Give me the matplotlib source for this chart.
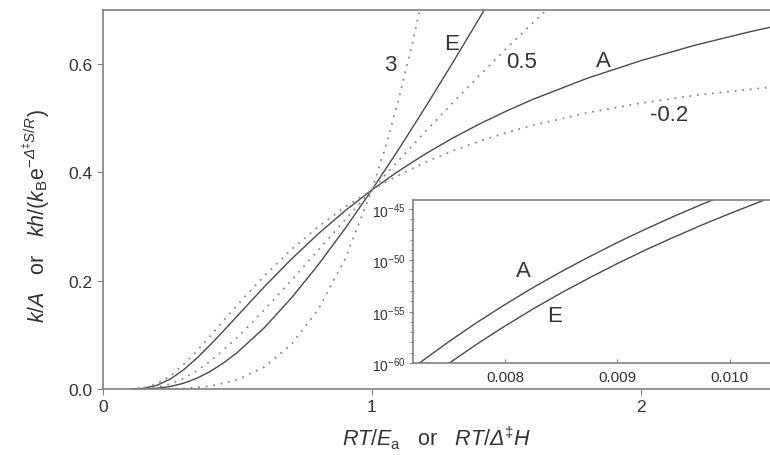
import matplotlib
matplotlib.use("Agg")
import matplotlib.pyplot as plt
from matplotlib.ticker import FixedLocator, FixedFormatter, NullFormatter

plt.rcParams['font.family'] = ['Liberation Sans', 'DejaVu Sans']
plt.rcParams['mathtext.fontset'] = 'custom'
plt.rcParams['mathtext.rm'] = 'Liberation Sans'
plt.rcParams['mathtext.it'] = 'Liberation Sans:italic'
plt.rcParams['mathtext.bf'] = 'Liberation Sans:bold'
plt.rcParams['mathtext.sf'] = 'Liberation Sans:italic'

# ---- main panel data ----
x_A = [0.10, 0.15, 0.20, 0.25, 0.30, 0.35, 0.40, 0.45, 0.50, 0.60, 0.70, 0.80, 0.90,
       1.00, 1.10, 1.20, 1.30, 1.40, 1.50, 1.60, 1.80, 2.00, 2.20, 2.40, 2.50]
y_A = [0.00005, 0.00127, 0.00674, 0.0183, 0.0357, 0.0574, 0.0821, 0.1084, 0.1353, 0.1889,
       0.2397, 0.2865, 0.3292, 0.3679, 0.4029, 0.4346, 0.4634, 0.4895, 0.5134, 0.5353,
       0.5738, 0.6065, 0.6348, 0.6592, 0.6703]

x_E = [0.10, 0.15, 0.20, 0.25, 0.30, 0.35, 0.40, 0.45, 0.50, 0.60, 0.70, 0.80, 0.90,
       1.00, 1.10, 1.20, 1.30, 1.40, 1.45]
y_E = [0.000005, 0.00019, 0.00135, 0.00458, 0.0107, 0.0201, 0.0328, 0.0488, 0.0677, 0.1133,
       0.1678, 0.2292, 0.2963, 0.3679, 0.4432, 0.5215, 0.6024, 0.6853, 0.7275]

x_m3 = [0.10, 0.20, 0.30, 0.40, 0.50, 0.60, 0.70, 0.80, 0.90, 1.00, 1.05, 1.10, 1.15, 1.20]
y_m3 = [0.0, 0.00005, 0.00096, 0.00525, 0.0169, 0.0408, 0.0822, 0.1467, 0.2400, 0.3679,
        0.4466, 0.5363, 0.6374, 0.7510]

x_m05 = [0.10, 0.15, 0.20, 0.25, 0.30, 0.35, 0.40, 0.45, 0.50, 0.60, 0.70, 0.80, 0.90,
         1.00, 1.10, 1.20, 1.30, 1.40, 1.50, 1.60, 1.70]
y_m05 = [0.000014, 0.00049, 0.00301, 0.00916, 0.01955, 0.0340, 0.0519, 0.0727, 0.0957,
         0.1463, 0.2006, 0.2563, 0.3123, 0.3679, 0.4226, 0.4761, 0.5284, 0.5792, 0.6288,
         0.6771, 0.7240]

x_mm02 = [0.10, 0.15, 0.20, 0.25, 0.30, 0.35, 0.40, 0.45, 0.50, 0.60, 0.70, 0.80, 0.90,
          1.00, 1.10, 1.20, 1.30, 1.40, 1.50, 1.60, 1.80, 2.00, 2.20, 2.40, 2.50]
y_mm02 = [0.000072, 0.00186, 0.0093, 0.0241, 0.0454, 0.0708, 0.0986, 0.1272, 0.1554, 0.2092,
          0.2574, 0.2996, 0.3362, 0.3679, 0.3953, 0.4190, 0.4397, 0.4577, 0.4735, 0.4873,
          0.5102, 0.5280, 0.5422, 0.5533, 0.5581]

# ---- inset data ----
xi_A = [0.0072, 0.00725, 0.0075, 0.00775, 0.0080, 0.00825, 0.0085, 0.00875, 0.0090,
        0.00925, 0.0095, 0.00975, 0.0100]
yi_A = [4.8e-61, 1.26e-60, 1.23e-58, 9.1e-57, 5.1e-55, 2.3e-53, 8.1e-52, 2.3e-50, 5.6e-49,
        1.12e-47, 1.95e-46, 2.9e-45, 3.7e-44]
xi_E = [0.0074, 0.0075, 0.00775, 0.0080, 0.00825, 0.0085, 0.00875, 0.0090, 0.00925,
        0.0095, 0.00975, 0.0100, 0.01025, 0.0105]
yi_E = [1.5e-61, 9.3e-61, 7.1e-59, 4.1e-57, 1.9e-55, 6.9e-54, 2.0e-52, 5.0e-51, 1.05e-49,
        1.8e-48, 2.8e-47, 3.7e-46, 4.4e-45, 4.6e-44]

main_xticks = [0, 1, 2]
main_yticks = [0.0, 0.2, 0.4, 0.6]
inset_xticks = [0.008, 0.009, 0.010]
inset_yticks = [1e-60, 1e-55, 1e-50, 1e-45]
inset_yticklabels = [r'$10^{-60}$', r'$10^{-55}$', r'$10^{-50}$', r'$10^{-45}$']
inset_minor = [1e-59, 1e-58, 1e-57, 1e-56, 1e-54, 1e-53, 1e-52, 1e-51,
               1e-49, 1e-48, 1e-47, 1e-46]

solid_c = '#4a4a4a'
dot_c = '#8a8a8a'
spine_c = '#808080'
text_c = '#333333'

fig = plt.figure(figsize=(7.7, 4.56), dpi=100)
ax = fig.add_axes([103/770, 1-390/456, 1-103/770, (390-11)/456])

ax.plot(x_A, y_A, color=solid_c, lw=1.0)
ax.plot(x_E, y_E, color=solid_c, lw=1.0)
for xs, ys in [(x_m3, y_m3), (x_m05, y_m05), (x_mm02, y_mm02)]:
    ax.plot(xs, ys, color=dot_c, lw=1.3, linestyle=(0, (1, 3.2)))

ax.set_xlim(0, 2.48)
ax.set_ylim(0, 0.70)
ax.set_xticks(main_xticks)
ax.set_xticklabels([str(t) for t in main_xticks])
ax.set_yticks(main_yticks)
ax.set_yticklabels(['%.1f' % t for t in main_yticks])
ax.tick_params(direction='out', length=4, width=0.8, colors=spine_c, labelcolor=text_c,
               labelsize=12.5)
for s in ['left', 'bottom', 'top']:
    ax.spines[s].set_color(spine_c)
    ax.spines[s].set_linewidth(1.2)
ax.spines['right'].set_visible(False)

ax.set_xlabel(r'$RT/E_{\rm a}$   or   $RT/\mathsf{Δ}^{\ddagger}H$', fontsize=15.5,
              color=text_c, labelpad=7)
ax.set_ylabel(r'$k/A$   or   $kh/(k_{\rm B}{\rm e}^{-\mathsf{Δ}^{\ddagger}S/R})$',
              fontsize=15.5, color=text_c)
ax.yaxis.set_label_coords(-0.077, 0.46)

ann = dict(fontsize=16, color=text_c, ha='center', va='center')
ax.text(1.07, 0.600, '3', **ann)
ax.text(1.297, 0.638, 'E', **ann)
ax.text(1.558, 0.605, '0.5', **ann)
ax.text(1.862, 0.607, 'A', **ann)
ax.text(2.104, 0.507, '-0.2', **ann)

# ---- inset ----
ins = fig.add_axes([413/770, 1-364/456, 1-413/770, (364-201)/456])
ins.plot(xi_A, yi_A, color=solid_c, lw=1.0)
ins.plot(xi_E, yi_E, color=solid_c, lw=1.0)
ins.set_yscale('log')
ins.set_xlim(0.00718, 0.01036)
ins.set_ylim(1e-60, 10**-44.1)
ins.set_xticks(inset_xticks)
ins.set_xticklabels(['%.3f' % t for t in inset_xticks])
ins.yaxis.set_major_locator(FixedLocator(inset_yticks))
ins.yaxis.set_major_formatter(FixedFormatter(inset_yticklabels))
ins.yaxis.set_minor_locator(FixedLocator(inset_minor))
ins.yaxis.set_minor_formatter(NullFormatter())
ins.tick_params(axis='x', direction='in', length=3, width=0.8, colors=spine_c,
                labelcolor=text_c, labelsize=11, pad=5)
ins.tick_params(axis='y', which='major', direction='out', length=3, width=0.8,
                colors=spine_c, labelcolor=text_c, labelsize=10, pad=2)
ins.tick_params(axis='y', which='minor', direction='out', length=2, width=0.6,
                colors=spine_c)
for s in ['left', 'bottom', 'top']:
    ins.spines[s].set_color(spine_c)
    ins.spines[s].set_linewidth(1.2)
ins.spines['right'].set_visible(False)

ins.text(0.00816, 10**-51.0, 'A', fontsize=16, color=text_c, ha='center', va='center')
ins.text(0.00844, 10**-55.4, 'E', fontsize=16, color=text_c, ha='center', va='center')

fig.savefig('out.png', dpi=100)
